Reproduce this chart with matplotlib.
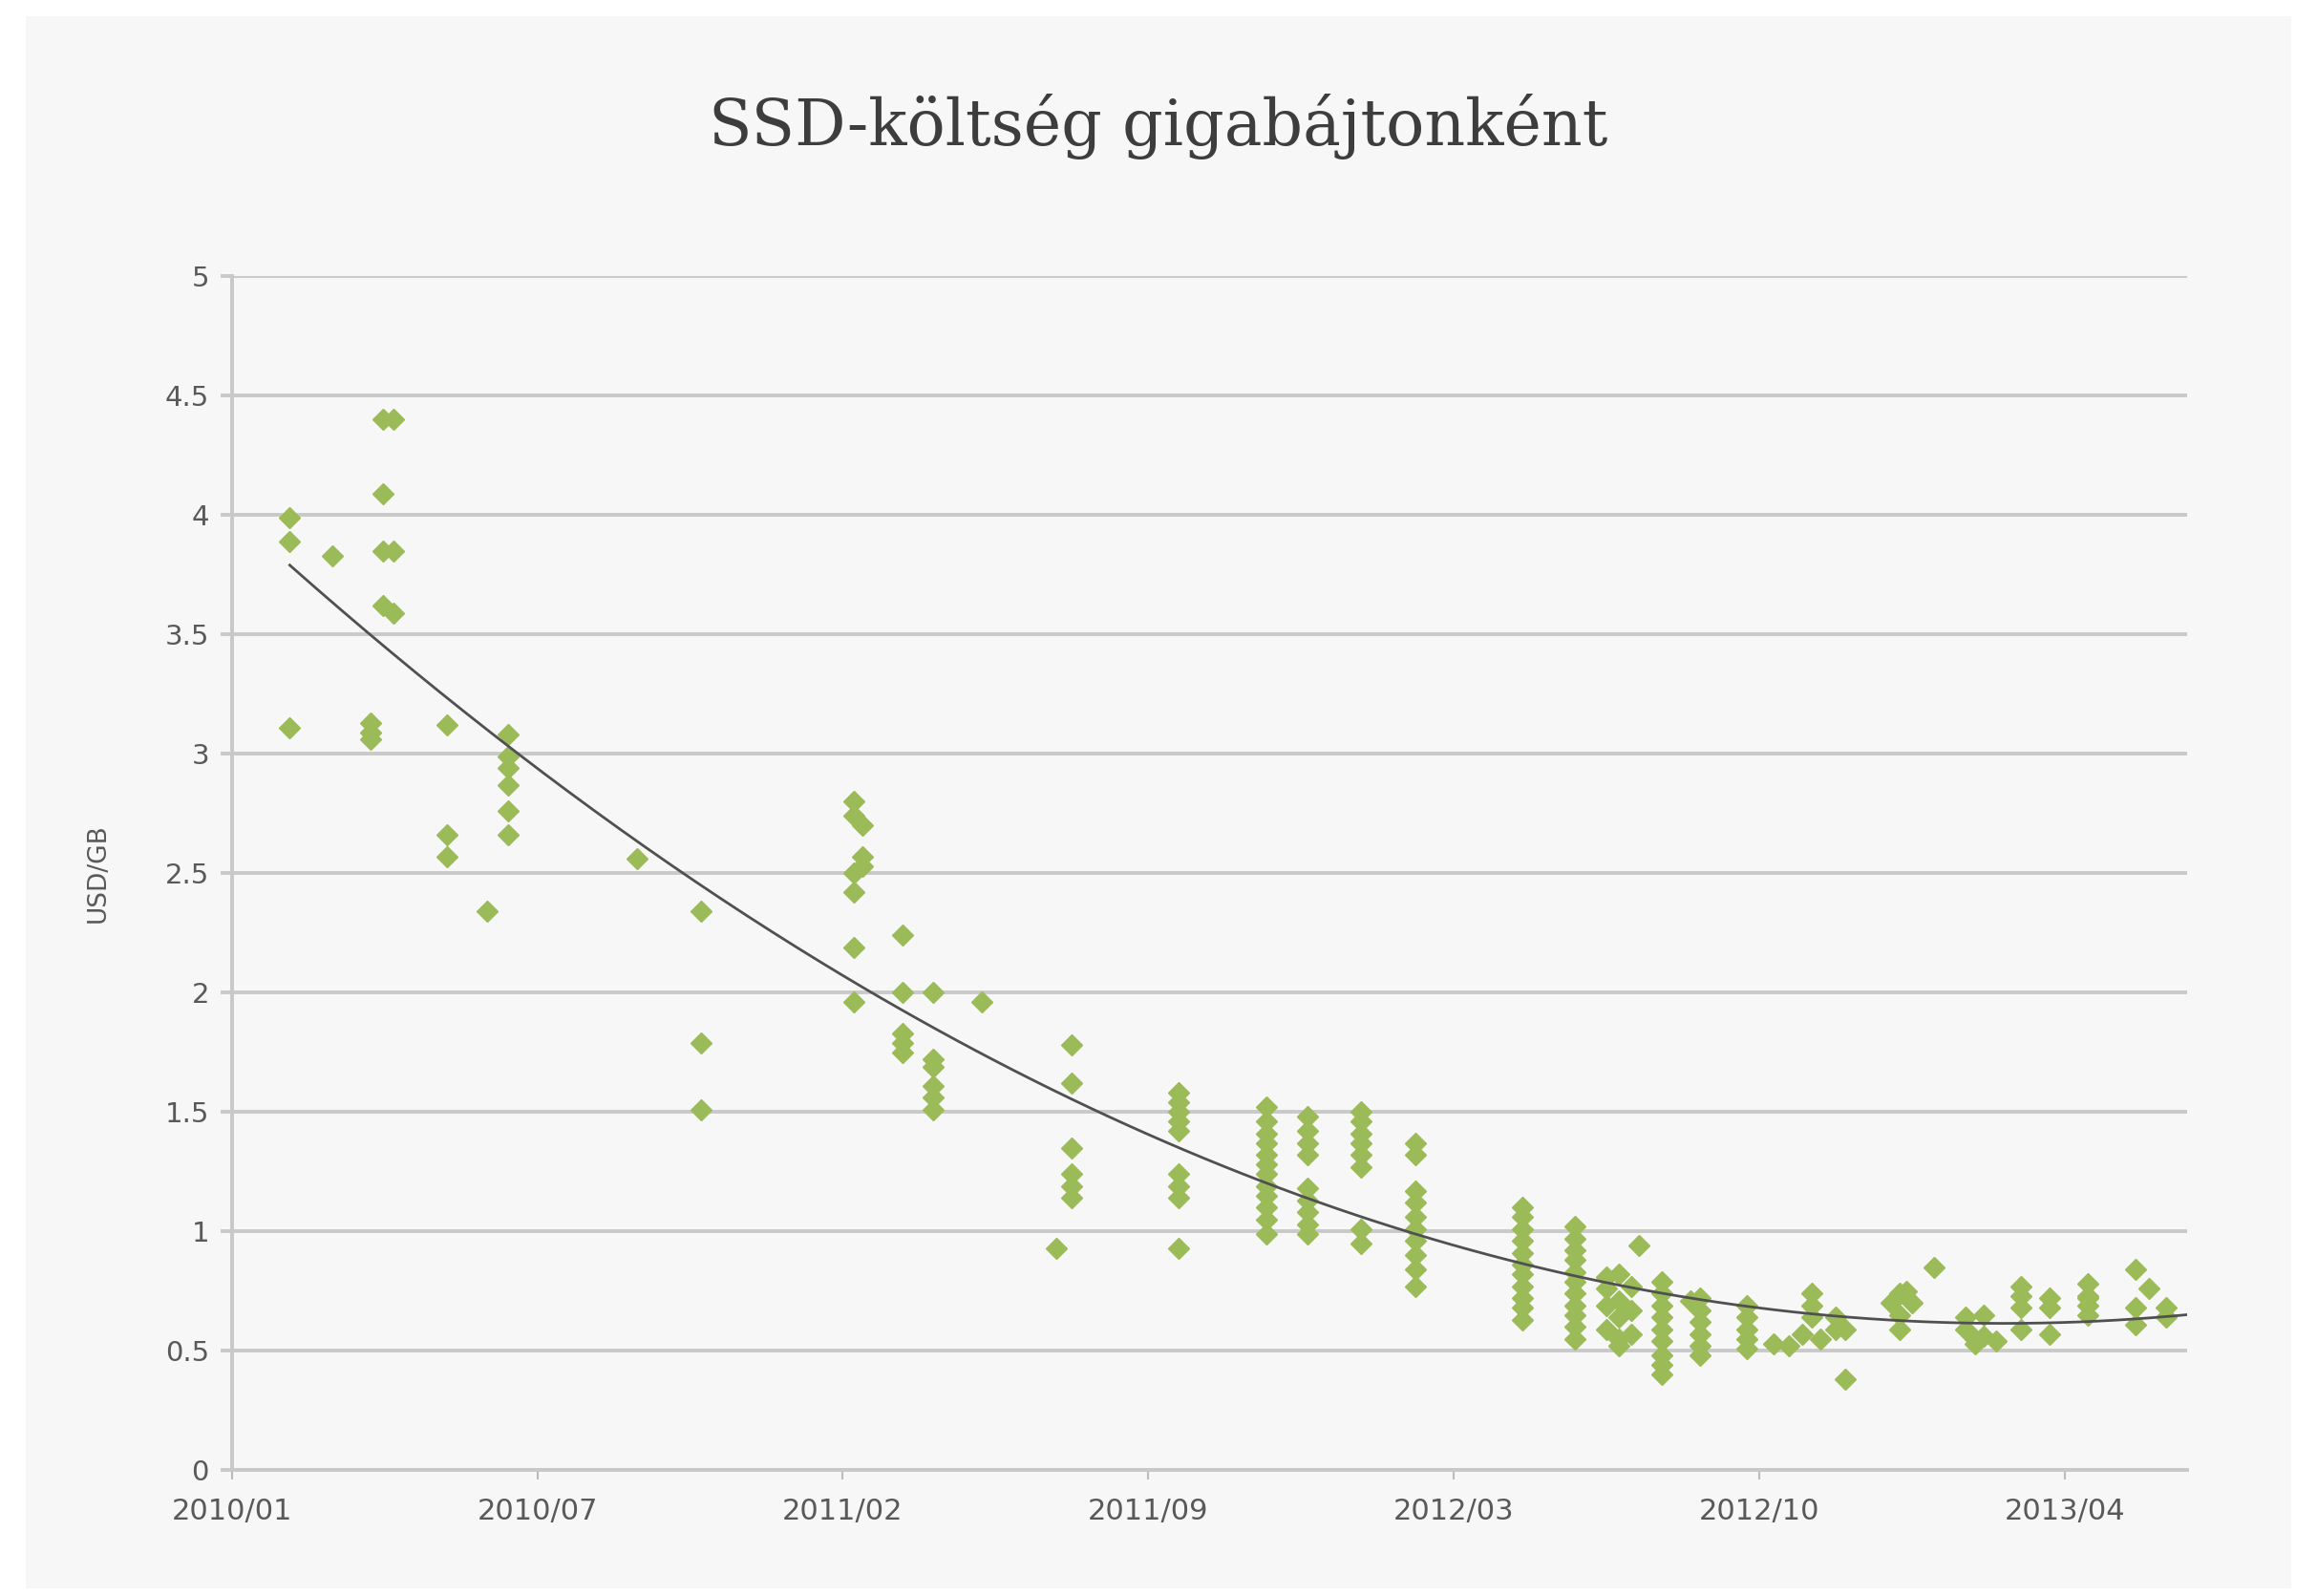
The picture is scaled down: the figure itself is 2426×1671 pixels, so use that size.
import numpy as np
import pandas as pd
import matplotlib
matplotlib.use('Agg')
from matplotlib import pyplot as plt
import matplotlib.dates as mdates
from matplotlib.patches import Rectangle

# dátumok: napok 2010-01-10 óta, és az ott mért árak (USD/GB)
start = pd.Timestamp('2010-01-10')
obs_days = [38, 66, 91, 99, 106, 141, 167, 181, 265, 307,
            407, 413, 439, 459, 491, 540, 550, 620, 677, 704,
            739, 775, 845, 879, 900, 908, 916, 921, 936, 955,
            961, 992, 1009, 1019, 1028, 1034, 1040, 1050, 1056, 1086,
            1092, 1096, 1100, 1114, 1135, 1141, 1147, 1155, 1171, 1190,
            1215, 1246, 1255, 1266]
obs_vals = [
    [3.99, 3.89, 3.11], [3.83], [3.13, 3.09, 3.06], [4.40, 4.09, 3.85, 3.62],
    [4.40, 3.85, 3.59], [3.12, 2.66, 2.57], [2.34], [3.08, 2.99, 2.94, 2.87, 2.76, 2.66],
    [2.56], [2.34, 1.79, 1.51],
    [2.80, 2.74, 2.50, 2.42, 2.19, 1.96], [2.70, 2.57, 2.53], [2.24, 2.00, 1.83, 1.79, 1.75],
    [2.00, 1.72, 1.69, 1.61, 1.56, 1.51], [1.96], [0.93], [1.78, 1.62, 1.35, 1.24, 1.19, 1.14],
    [1.58, 1.54, 1.50, 1.46, 1.42, 1.24, 1.19, 1.14, 0.93],
    [1.52, 1.46, 1.41, 1.37, 1.32, 1.28, 1.24, 1.19, 1.15, 1.10, 1.05, 0.99],
    [1.48, 1.42, 1.37, 1.32, 1.18, 1.13, 1.08, 1.03, 0.99],
    [1.50, 1.46, 1.41, 1.37, 1.32, 1.27, 1.01, 0.95],
    [1.37, 1.32, 1.17, 1.12, 1.06, 1.01, 0.96, 0.90, 0.84, 0.77],
    [1.10, 1.06, 1.01, 0.96, 0.91, 0.86, 0.82, 0.77, 0.72, 0.68, 0.63],
    [1.02, 0.97, 0.92, 0.88, 0.83, 0.79, 0.74, 0.69, 0.65, 0.60, 0.55],
    [0.81, 0.76, 0.69, 0.59], [0.82, 0.71, 0.64, 0.55, 0.52], [0.77, 0.67, 0.57], [0.94],
    [0.79, 0.74, 0.69, 0.64, 0.59, 0.54, 0.48, 0.44, 0.40], [0.71],
    [0.72, 0.67, 0.62, 0.57, 0.52, 0.48], [0.69, 0.64, 0.59, 0.55, 0.51], [0.53], [0.52],
    [0.57], [0.74, 0.69, 0.64], [0.55], [0.64, 0.59], [0.38, 0.59], [0.70],
    [0.74, 0.65, 0.59], [0.75], [0.70], [0.85], [0.59, 0.64], [0.55, 0.53], [0.65, 0.56],
    [0.54], [0.77, 0.73, 0.68, 0.59], [0.72, 0.68, 0.57],
    [0.78, 0.73, 0.69, 0.72, 0.65], [0.84, 0.68, 0.61], [0.76], [0.68, 0.64]]

tick_step = 200          # napok két felirat között
axis_days = 1280
y_ticks = [0, 0.5, 1, 1.5, 2, 2.5, 3, 3.5, 4, 4.5, 5]

# kibontjuk a mérési pontokat
d, v = [], []
for day, vals in zip(obs_days, obs_vals):
    for val in vals:
        d.append(day)
        v.append(val)
d = np.array(d, dtype=float)
v = np.array(v)
dates = start + pd.to_timedelta(d, unit='D')

# másodfokú trendvonal (mint az Excelben)
coef = np.polyfit(d, v, 2)
trend_d = np.linspace(d.min(), axis_days, 300)
trend_dates = start + pd.to_timedelta(trend_d, unit='D')

bg = '#f7f7f7'
grid_c = '#c9c9c9'
txt_c = '#595959'

fig = plt.figure(figsize=(24.26, 16.71), dpi=100, facecolor='white')
fig.patches.append(Rectangle((0.011, 0.005), 0.978, 0.985, transform=fig.transFigure,
                             facecolor=bg, edgecolor='none', zorder=-5))
ax = fig.add_axes([0.100, 0.079, 0.844, 0.748])
ax.set_facecolor(bg)

ax.plot(dates, v, linestyle='none', marker='D', ms=11.5, color='#9bbb59', zorder=3)
ax.plot(trend_dates, np.polyval(coef, trend_d), color='#505050', lw=2.0, zorder=4)

ax.set_ylim(0, 5)
ax.set_yticks(y_ticks)
ax.set_yticklabels([f'{t:g}' for t in y_ticks])
ax.set_xlim(start, start + pd.Timedelta(days=axis_days))
xt = [start + pd.Timedelta(days=k * tick_step) for k in range(7)]
ax.set_xticks(xt)
ax.xaxis.set_major_formatter(mdates.DateFormatter('%Y/%m'))

ax.grid(axis='y', color=grid_c, lw=2.8)
ax.set_axisbelow(True)
for s in ['top', 'right']:
    ax.spines[s].set_visible(False)
for s in ['left', 'bottom']:
    ax.spines[s].set_color('#c8c8c8')
    ax.spines[s].set_linewidth(2.8)
ax.tick_params(axis='y', length=9, width=2.8, color=grid_c, labelsize=21, labelcolor=txt_c, pad=8)
ax.tick_params(axis='x', length=7, width=1.5, color='#bbbbbb', labelsize=22, labelcolor=txt_c, pad=14)

ax.set_ylabel('USD/GB', fontsize=19, color=txt_c)
ax.yaxis.set_label_coords(-0.062, 0.5)

fig.text(0.5, 0.921, 'SSD-költség gigabájtonként', ha='center', va='center',
         fontsize=48, color='#3d3d3d', family='DejaVu Serif')

plt.savefig('out.png', dpi=100, facecolor=fig.get_facecolor())
